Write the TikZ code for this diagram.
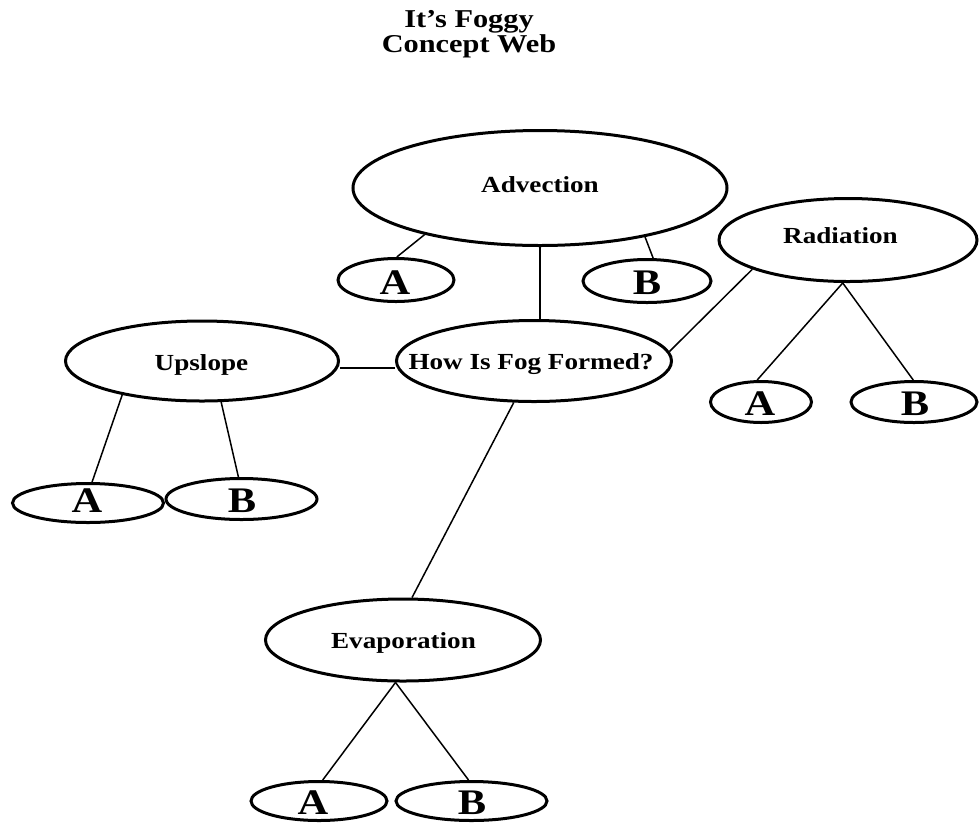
\documentclass[tikz,border=0pt]{standalone}
\usepackage{fontspec}
\setmainfont{Liberation Serif}[FakeStretch=1.18]
\usetikzlibrary{shapes.geometric}
\begin{document}
\begin{tikzpicture}[x=1pt,y=-1pt,
  bubble/.style={draw, ellipse, line width=3pt, inner sep=0pt},
  lbl/.style={anchor=base, inner sep=0pt, font=\bfseries\fontsize{23}{23}\selectfont},
  letter/.style={anchor=base, inner sep=0pt, font=\bfseries\fontsize{36}{36}\selectfont},
  ttl/.style={anchor=base, inner sep=0pt, font=\bfseries\fontsize{25.7}{25.7}\selectfont},
  link/.style={line width=1.5pt}
]
\useasboundingbox (0,0) rectangle (980,823);

% title
\node[ttl] (t1) at (469,27) {It’s Foggy};
\node[ttl] (t2) at (469,52) {Concept Web};

% ellipses
\node[bubble, minimum width=374, minimum height=115] (adv) at (540,188) {};
\node[bubble, minimum width=116, minimum height=43] (advA) at (396,280) {};
\node[bubble, minimum width=128, minimum height=43] (advB) at (647,281) {};
\node[bubble, minimum width=258, minimum height=83] (rad) at (848,240) {};
\node[bubble, minimum width=101, minimum height=41] (radA) at (761,402) {};
\node[bubble, minimum width=126, minimum height=41] (radB) at (914,402) {};
\node[bubble, minimum width=275, minimum height=81] (how) at (534,361) {};
\node[bubble, minimum width=273, minimum height=80] (ups) at (202,361) {};
\node[bubble, minimum width=151, minimum height=39] (upsA) at (88,503) {};
\node[bubble, minimum width=151, minimum height=41] (upsB) at (241.5,499) {};
\node[bubble, minimum width=275, minimum height=82] (evap) at (403,640) {};
\node[bubble, minimum width=136, minimum height=39] (evA) at (319,801) {};
\node[bubble, minimum width=151, minimum height=39] (evB) at (471.5,801) {};

% texts
\node[lbl] (advT) at (540,192) {Advection};
\node[lbl] (radT) at (840.5,243) {Radiation};
\node[lbl] (upsT) at (201.5,370) {Upslope};
\node[lbl] (howT) at (531,369) {How Is Fog Formed?};
\node[lbl] (evapT) at (403.5,648) {Evaporation};
\node[letter] (advAT) at (395,294) {A};
\node[letter] (advBT) at (647,294) {B};
\node[letter] (radAT) at (760,415) {A};
\node[letter] (radBT) at (915,415) {B};
\node[letter] (upsAT) at (87,512) {A};
\node[letter] (upsBT) at (242,512) {B};
\node[letter] (evAT) at (313,814) {A};
\node[letter] (evBT) at (472,814) {B};

% connectors
\draw[link] (adv.202) -- (advA.88);
\draw[link] (adv.335) -- (advB.75);
\draw[link] (adv.south) -- (how.north -| adv.south);
\draw[link] ([yshift=-7pt]ups.east) -- ([yshift=-7pt]how.west);
\draw[link] (rad.197) -- (how.4);
\draw[link] (how.244) -- (evap.78);
\draw[link] (rad.263) -- (radA.100);
\draw[link] (rad.263) -- (radB.92);
\draw[link] (ups.203) -- (upsA.79);
\draw[link] (ups.295) -- (upsB.98);
\draw[link] (evap.260) -- (evA.80);
\draw[link] (evap.260) -- (evB.98);
\end{tikzpicture}
\end{document}
